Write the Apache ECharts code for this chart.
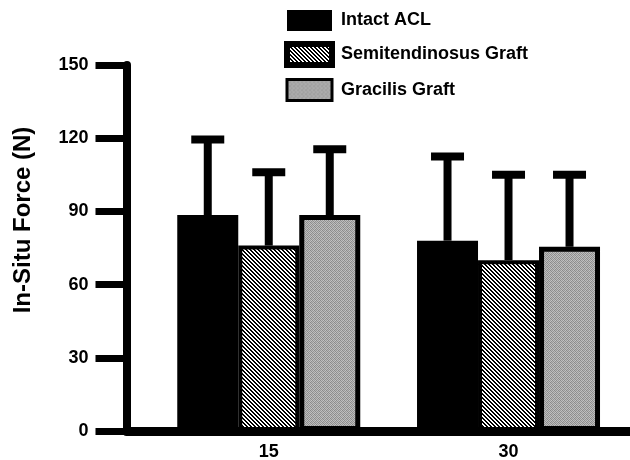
<!DOCTYPE html>
<html><head><meta charset="utf-8">
<script src="https://cdn.jsdelivr.net/npm/echarts@6/dist/echarts.min.js"></script>
<style>html,body{margin:0;padding:0;background:#fff}#c{width:630px;height:460px}</style>
</head><body><div id="c"></div>
<script>
// ---- data ----
const categories = [15, 30];
const seriesNames = ['Intact ACL', 'Semitendinosus Graft', 'Gracilis Graft'];
const intactMean = [88.5, 78];
const intactSD = [31, 34.5];
const semiMean = [76, 70];
const semiSD = [30, 35];
const gracilisMean = [88.5, 75.5];
const gracilisSD = [27, 29.5];
const yTicks = [0, 30, 60, 90, 120, 150];
const yAxisTitle = 'In-Situ Force (N)';

// ---- style constants ----
const BAR_W = 61, STEM_W = 8, CAP_W = 33, CAP_H = 8;
const FONT = '"Liberation Sans", Arial, sans-serif';

function makePattern(size, painter) {
  const cv = document.createElement('canvas');
  cv.width = size; cv.height = size;
  const ctx = cv.getContext('2d');
  painter(ctx, size);
  return { image: cv, repeat: 'repeat' };
}
const hatch = makePattern(4, (ctx, n) => {
  ctx.fillStyle = '#fff'; ctx.fillRect(0, 0, n, n);
  ctx.fillStyle = '#000';
  for (let x = 0; x < n; x++) for (let y = 0; y < n; y++) {
    if ((((x - y) % 4) + 4) % 4 < 2) ctx.fillRect(x, y, 1, 1);
  }
});
const stipple = makePattern(4, (ctx, n) => {
  const shades = [['#8a8a8a', '#bdbdbd', '#9a9a9a', '#c4c4c4'],
                  ['#b8b8b8', '#909090', '#c0c0c0', '#8e8e8e'],
                  ['#969696', '#c2c2c2', '#888888', '#b6b6b6'],
                  ['#bebebe', '#949494', '#bababa', '#8c8c8c']];
  for (let y = 0; y < n; y++) for (let x = 0; x < n; x++) {
    ctx.fillStyle = shades[y][x]; ctx.fillRect(x, y, 1, 1);
  }
});

const means = [intactMean, semiMean, gracilisMean];
const sds = [intactSD, semiSD, gracilisSD];
const styles = [
  { color: '#000', borderColor: '#000', borderWidth: 0 },
  { color: hatch, borderColor: '#000', borderWidth: 4 },
  { color: stipple, borderColor: '#000', borderWidth: 5 }
];
const legendBorders = [0, 6, 3];

function errRenderer(offsetIndex) {
  return function (params, api) {
    const x = api.value(0), m = api.value(1), sd = api.value(2);
    const base = api.coord([x, m]);
    const top = api.coord([x, m + sd]);
    const cx = base[0] + offsetIndex * BAR_W;
    return {
      type: 'group',
      children: [
        { type: 'rect', shape: { x: cx - STEM_W / 2, y: top[1], width: STEM_W, height: base[1] - top[1] }, style: { fill: '#000' } },
        { type: 'rect', shape: { x: cx - CAP_W / 2, y: top[1] - CAP_H / 2, width: CAP_W, height: CAP_H }, style: { fill: '#000' } }
      ]
    };
  };
}

const series = [];
seriesNames.forEach((name, i) => {
  series.push({
    name: name,
    type: 'bar',
    barWidth: BAR_W,
    barGap: '0%',
    itemStyle: styles[i],
    z: 3,
    data: categories.map((c, k) => [c, means[i][k]])
  });
});
seriesNames.forEach((name, i) => {
  series.push({
    name: 'err' + i,
    type: 'custom',
    z: 2,
    renderItem: errRenderer(i - 1),
    encode: { x: 0, y: 1 },
    data: categories.map((c, k) => [c, means[i][k], sds[i][k]])
  });
});

const chart = echarts.init(document.getElementById('c'), null, { renderer: 'canvas' });
chart.setOption({
  animation: false,
  backgroundColor: '#fff',
  textStyle: { fontFamily: FONT },
  legend: {
    orient: 'vertical',
    left: 284, top: 10, padding: 0,
    itemWidth: 45, itemHeight: 21, itemGap: 10,
    icon: 'rect',
    selectedMode: false,
    data: seriesNames.map((n, i) => ({ name: n, itemStyle: { borderWidth: legendBorders[i], borderColor: '#000' } })),
    textStyle: { fontFamily: FONT, fontSize: 18, fontWeight: 'bold', color: '#000', padding: [0, 0, 0, 4] }
  },
  grid: { left: 126.5, right: 0, top: 65, bottom: 29, containLabel: false, outerBoundsMode: 'none' },
  xAxis: {
    type: 'value',
    min: 6.1, max: 37.6,
    splitLine: { show: false },
    axisTick: { show: false },
    axisLine: { show: true, onZero: false, lineStyle: { color: '#000', width: 9 } },
    axisLabel: {
      customValues: categories,
      margin: 12,
      fontFamily: FONT, fontSize: 18, fontWeight: 'bold', color: '#000'
    }
  },
  yAxis: {
    type: 'value',
    min: yTicks[0], max: yTicks[yTicks.length - 1], interval: 30,
    splitLine: { show: false },
    axisLine: { show: true, lineStyle: { color: '#000', width: 8 } },
    axisTick: { show: true, length: 31, lineStyle: { color: '#000', width: 7 } },
    axisLabel: { margin: 38, fontFamily: FONT, fontSize: 18, fontWeight: 'bold', color: '#000' },
    name: yAxisTitle,
    nameLocation: 'middle',
    nameRotate: 90,
    nameGap: 91,
    nameTextStyle: { fontFamily: FONT, fontSize: 24, fontWeight: 'bold', color: '#000', padding: [0, 0, 0, 56] }
  },
  series: series
});
</script></body></html>
